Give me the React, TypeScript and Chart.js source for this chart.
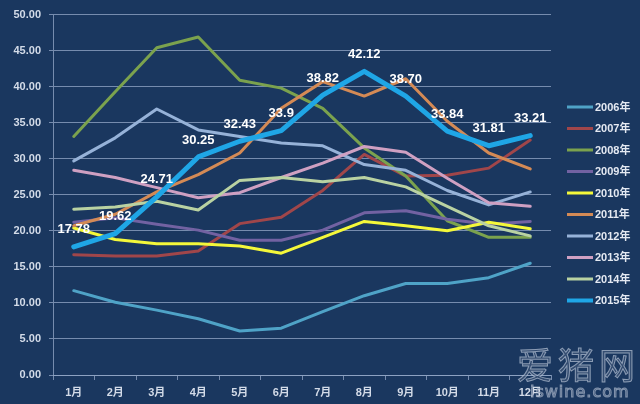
import React, { useEffect, useRef } from 'react';
import { Chart, registerables } from 'chart.js';

Chart.register(...registerables);

const months = ['1月', '2月', '3月', '4月', '5月', '6月', '7月', '8月', '9月', '10月', '11月', '12月'];
const years = ['2006年', '2007年', '2008年', '2009年', '2010年', '2011年', '2012年', '2013年', '2014年', '2015年'];

const s2006 = [11.7, 10.1, 9.0, 7.8, 6.1, 6.5, 8.8, 11.0, 12.7, 12.7, 13.5, 15.5];
const s2007 = [16.7, 16.5, 16.5, 17.2, 21.0, 21.9, 25.6, 30.6, 27.6, 27.7, 28.7, 32.6];
const s2008 = [33.1, 39.3, 45.4, 46.9, 40.9, 39.8, 37.0, 31.5, 27.6, 21.4, 19.1, 19.1];
const s2009 = [21.2, 21.8, 20.9, 20.1, 18.7, 18.7, 20.1, 22.5, 22.8, 21.6, 20.9, 21.3];
const s2010 = [20.4, 18.8, 18.2, 18.2, 17.9, 16.9, 19.1, 21.3, 20.7, 20.0, 21.2, 20.3];
const s2011 = [20.7, 22.3, 25.4, 27.8, 30.8, 37.0, 40.7, 38.7, 41.1, 35.2, 30.8, 28.6];
const s2012 = [29.7, 32.9, 36.9, 34.0, 33.1, 32.2, 31.8, 29.2, 28.4, 25.6, 23.6, 25.4];
const s2013 = [28.4, 27.4, 26.0, 24.6, 25.3, 27.4, 29.4, 31.7, 30.9, 27.3, 23.9, 23.4];
const s2014 = [23.0, 23.3, 24.1, 22.9, 27.0, 27.4, 26.8, 27.4, 26.1, 23.4, 20.7, 19.3];
const s2015 = [17.78, 19.62, 24.71, 30.25, 32.43, 33.9, 38.82, 42.12, 38.7, 33.84, 31.81, 33.21];
const labels2015 = ['17.78', '19.62', '24.71', '30.25', '32.43', '33.9', '38.82', '42.12', '38.70', '33.84', '31.81', '33.21'];

const seriesValues = [s2006, s2007, s2008, s2009, s2010, s2011, s2012, s2013, s2014, s2015];
const seriesColors = ['#4FA3C7', '#A0464A', '#7BA24E', '#7262A2', '#F4F83A', '#D48A55', '#96B2D8', '#CFA0C2', '#B9D2A2', '#1FA6E6'];
const seriesWidths = [3, 3, 3, 3, 3, 3, 3, 3, 3, 5];

const FONT = '"Liberation Sans", "Noto Sans CJK SC", sans-serif';
const BG = '#1A375F';
const TEXT = '#D3DBE8';
const GRID = 'rgba(150,170,200,0.75)';

const bgPlugin = {
  id: 'bg',
  beforeDraw(chart: any) {
    const ctx = chart.ctx;
    ctx.save();
    ctx.fillStyle = BG;
    ctx.fillRect(0, 0, chart.width, chart.height);
    ctx.restore();
  },
};

const valueLabels = {
  id: 'valueLabels',
  afterDatasetsDraw(chart: any) {
    const idx = chart.data.datasets.length - 1;
    const meta = chart.getDatasetMeta(idx);
    const ctx = chart.ctx;
    ctx.save();
    ctx.font = 'bold 13px ' + FONT;
    ctx.fillStyle = '#FFFFFF';
    ctx.textAlign = 'center';
    ctx.textBaseline = 'middle';
    meta.data.forEach((pt: any, i: number) => {
      ctx.fillText(labels2015[i], pt.x, pt.y - 17);
    });
    ctx.restore();
  },
};

const customLegend = {
  id: 'customLegend',
  afterDraw(chart: any) {
    const ctx = chart.ctx;
    ctx.save();
    ctx.font = 'bold 11px ' + FONT;
    ctx.textBaseline = 'middle';
    ctx.textAlign = 'left';
    chart.data.datasets.forEach((ds: any, i: number) => {
      const y = 107 + i * 21.5;
      ctx.strokeStyle = ds.borderColor;
      ctx.lineWidth = i === chart.data.datasets.length - 1 ? 4 : 3;
      ctx.beginPath();
      ctx.moveTo(567, y);
      ctx.lineTo(593, y);
      ctx.stroke();
      ctx.fillStyle = '#E4E9F2';
      ctx.fillText(ds.label, 595, y + 0.5);
    });
    ctx.restore();
  },
};

const watermark = {
  id: 'watermark',
  afterDraw(chart: any) {
    const ctx = chart.ctx;
    ctx.save();
    ctx.textAlign = 'left';
    ctx.textBaseline = 'alphabetic';
    ctx.font = '36px "Noto Sans CJK SC", sans-serif';
    try { (ctx as any).letterSpacing = '5px'; } catch (e) { /* ignore */ }
    ctx.fillStyle = 'rgba(70,92,125,0.6)';
    ctx.fillText('爱猪网', 517, 379);
    ctx.strokeStyle = 'rgba(205,215,230,0.6)';
    ctx.lineWidth = 1;
    ctx.strokeText('爱猪网', 517, 379);
    try { (ctx as any).letterSpacing = '1px'; } catch (e) { /* ignore */ }
    ctx.font = '16px "DejaVu Sans", sans-serif';
    ctx.fillStyle = 'rgba(70,92,125,0.6)';
    ctx.fillText('iswine.com', 530, 397);
    ctx.strokeStyle = 'rgba(205,215,230,0.55)';
    ctx.strokeText('iswine.com', 530, 397);
    ctx.restore();
  },
};

export default function App() {
  const ref = useRef<HTMLCanvasElement | null>(null);

  useEffect(() => {
    if (!ref.current) return;
    const n = seriesValues.length;
    const chart = new Chart(ref.current, {
      type: 'line',
      data: {
        labels: months,
        datasets: seriesValues.map((vals, i) => ({
          label: years[i],
          data: vals,
          borderColor: seriesColors[i],
          backgroundColor: seriesColors[i],
          borderWidth: seriesWidths[i],
          pointRadius: 0,
          pointHoverRadius: 0,
          tension: 0,
          fill: false,
          order: n - i,
          borderJoinStyle: 'round' as const,
          borderCapStyle: 'round' as const,
        })),
      },
      options: {
        animation: false,
        responsive: false,
        devicePixelRatio: 1,
        layout: { padding: { left: 0, right: 89, top: 13, bottom: 0 } },
        plugins: {
          legend: { display: false },
          tooltip: { enabled: false },
        },
        scales: {
          x: {
            offset: true,
            afterFit(scale: any) {
              scale.height = 29;
            },
            grid: {
              offset: true,
              drawOnChartArea: false,
              drawTicks: true,
              tickLength: 5,
              color: GRID,
            },
            border: { display: true, color: GRID, width: 1 },
            ticks: {
              color: TEXT,
              font: { family: FONT, size: 11, weight: 'bold' },
              padding: 6,
              maxRotation: 0,
              autoSkip: false,
            },
          },
          y: {
            min: 0,
            max: 50,
            afterFit(scale: any) {
              scale.width = 53;
            },
            grid: {
              color: GRID,
              lineWidth: 1,
              drawTicks: true,
              tickLength: 4,
            },
            border: { display: true, color: GRID, width: 1 },
            ticks: {
              stepSize: 5,
              color: TEXT,
              font: { family: FONT, size: 11, weight: 'bold' },
              padding: 8,
              callback: (v: any) => Number(v).toFixed(2),
            },
          },
        },
      },
      plugins: [bgPlugin, valueLabels, customLegend, watermark],
    });
    return () => chart.destroy();
  }, []);

  return (
    <div style={{ position: 'fixed', left: 0, top: 0, width: 640, height: 404, background: BG }}>
      <canvas ref={ref} width={640} height={404} style={{ width: 640, height: 404, display: 'block' }} />
    </div>
  );
}
